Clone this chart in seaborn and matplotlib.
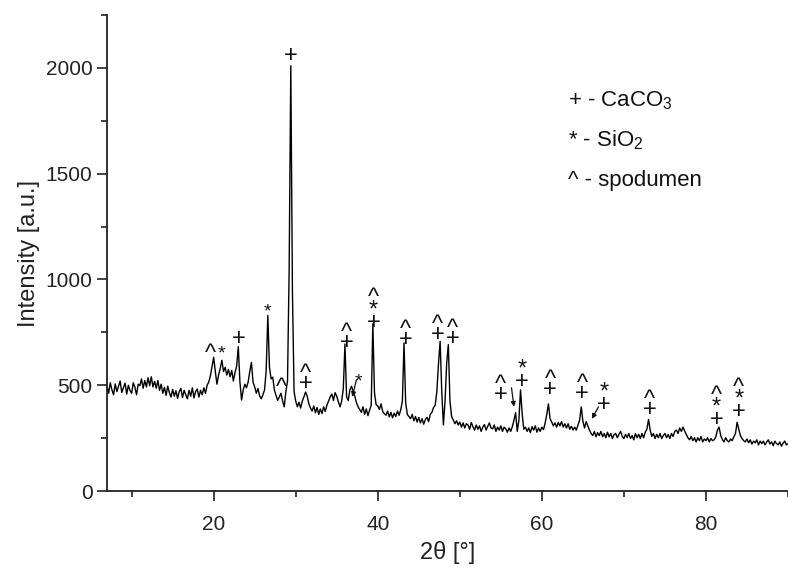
import numpy as np
import pandas as pd
import matplotlib
matplotlib.use("Agg")
import matplotlib.pyplot as plt
import seaborn as sns

# ---------------- data ----------------
scan_start = 7.0   # first 2theta of the scan [deg]
scan_step = 0.2    # scan step [deg]
intensity = [
    495, 462, 512, 478, 455,   # 7
    506, 470, 495, 520, 466,   # 8
    488, 510, 458, 500, 475,   # 9
    462, 512, 490, 455, 505,   # 10
    498, 530, 486, 522, 492,   # 11
    535, 498, 540, 492, 518,   # 12
    486, 522, 476, 505, 462,   # 13
    490, 452, 496, 465, 444,   # 14
    480, 448, 474, 438, 470,   # 15
    485, 442, 476, 455, 436,   # 16
    476, 448, 488, 440, 470,   # 17
    482, 444, 476, 455, 488,   # 18
    462, 500, 515, 545, 590,   # 19
    632, 565, 505, 548, 580,   # 20
    618, 565, 585, 548, 575,   # 21
    540, 570, 520, 560, 590,   # 22
    682, 515, 430, 478, 505,   # 23
    488, 515, 565, 608, 515,   # 24
    492, 462, 485, 450, 436,   # 25
    455, 478, 570, 830, 585,   # 26
    530, 538, 478, 452, 428,   # 27
    445, 462, 426, 398, 470,   # 28
    520, 1050, 2010, 940, 470, # 29
    425, 398, 420, 392, 425,   # 30
    445, 468, 448, 412, 392,   # 31
    378, 402, 370, 395, 362,   # 32
    388, 366, 398, 376, 405,   # 33
    425, 445, 458, 428, 465,   # 34
    448, 422, 398, 425, 485,   # 35
    695, 445, 428, 478, 495,   # 36
    472, 448, 418, 398, 385,   # 37
    372, 398, 362, 388, 356,   # 38
    382, 405, 790, 465, 408,   # 39
    402, 386, 412, 376, 366,   # 40
    358, 378, 350, 372, 346,   # 41
    368, 352, 378, 358, 384,   # 42
    425, 700, 418, 362, 352,   # 43
    342, 362, 332, 352, 326,   # 44
    348, 322, 342, 316, 338,   # 45
    348, 328, 362, 372, 395,   # 46
    405, 470, 600, 708, 470,   # 47
    312, 425, 605, 692, 425,   # 48
    352, 336, 318, 332, 312,   # 49
    326, 302, 322, 298, 318,   # 50
    312, 292, 324, 304, 288,   # 51
    312, 292, 308, 282, 302,   # 52
    314, 288, 306, 322, 298,   # 53
    294, 312, 282, 302, 288,   # 54
    308, 282, 302, 294, 278,   # 55
    298, 282, 304, 335, 370,   # 56
    282, 335, 478, 365, 292,   # 57
    302, 282, 298, 276, 304,   # 58
    288, 308, 278, 298, 282,   # 59
    302, 290, 322, 362, 412,   # 60
    342, 326, 308, 322, 302,   # 61
    324, 308, 328, 302, 318,   # 62
    298, 318, 292, 306, 288,   # 63
    302, 288, 312, 335, 398,   # 64
    330, 298, 328, 308, 288,   # 65
    272, 262, 282, 256, 276,   # 66
    262, 282, 256, 272, 252,   # 67
    278, 256, 272, 248, 266,   # 68
    272, 252, 268, 282, 258,   # 69
    248, 268, 252, 272, 248,   # 70
    262, 242, 272, 252, 268,   # 71
    248, 272, 252, 278, 292,   # 72
    338, 288, 258, 272, 248,   # 73
    268, 252, 272, 248, 262,   # 74
    272, 252, 268, 248, 272,   # 75
    258, 282, 288, 272, 298,   # 76
    282, 302, 284, 268, 252,   # 77
    242, 258, 238, 252, 232,   # 78
    252, 238, 258, 232, 246,   # 79
    238, 252, 232, 248, 238,   # 80
    242, 256, 288, 302, 262,   # 81
    244, 232, 252, 238, 232,   # 82
    246, 238, 256, 272, 325,   # 83
    292, 262, 248, 238, 232,   # 84
    246, 228, 242, 222, 236,   # 85
    228, 242, 218, 236, 224,   # 86
    236, 218, 232, 242, 222,   # 87
    232, 214, 236, 224, 218,   # 88
    232, 212, 226, 236, 218,   # 89
    224,                       # 90
]
two_theta = np.round(scan_start + scan_step * np.arange(len(intensity)), 1)

# phase marks stacked above the peaks:
# x, centre of the lowest symbol (data units), and the stacked symbols
mark_x = [19.6, 21.0, 23.1, 26.6, 28.3, 29.4, 31.2, 36.2, 37.7, 39.5,
          43.4, 47.3, 49.1, 55.0, 57.6, 61.0, 64.9, 67.6, 73.1, 81.3, 84.0]
mark_y = [678, 682, 730, 880, 516, 2066, 517, 711, 550, 806,
          725, 749, 730, 464, 526, 488, 469, 417, 393, 346, 384]
mark_text = ['^', '*', '+', '*', '^', '+', '^\n+', '^\n+', '*', '^\n*\n+',
             '^\n+', '^\n+', '^\n+', '^\n+', '*\n+', '^\n+', '^\n+', '*\n+',
             '^\n+', '^\n*\n+', '^\n*\n+']

# small arrows from marks to weak peaks
arrow_tail_x = [37.4, 56.3, 66.9]
arrow_tail_y = [526, 488, 398]
arrow_head_x = [36.9, 56.6, 66.1]
arrow_head_y = [445, 398, 341]

legend_sym = ['+', '*', '^']
legend_name = ['CaCO$_3$', 'SiO$_2$', 'spodumen']

x_major = [20, 40, 60, 80]
x_minor = [10, 30, 50, 70, 90]
y_major = [0, 500, 1000, 1500, 2000]
y_minor = [250, 750, 1250, 1750, 2250]

# ---------------- style ----------------
sns.set_theme(style="ticks")
plt.rcParams['font.family'] = ['Liberation Sans', 'DejaVu Sans']
plt.rcParams['mathtext.fontset'] = 'custom'
plt.rcParams['mathtext.rm'] = 'Liberation Sans'
plt.rcParams['mathtext.it'] = 'Liberation Sans:italic'

df = pd.DataFrame({'two_theta': two_theta, 'intensity': intensity})

fig = plt.figure(figsize=(7.88, 5.67), dpi=100)
ax = fig.add_axes([0.1358, 0.134, 0.8642, 0.8395])
sns.lineplot(data=df, x='two_theta', y='intensity', ax=ax, color='black',
             linewidth=1.0, estimator=None, sort=False)

ax.set_xlim(7, 90)
ax.set_ylim(0, 2250)
ax.set_xticks(x_major)
ax.set_xticks(x_minor, minor=True)
ax.set_yticks(y_major)
ax.set_yticks(y_minor, minor=True)
ax.tick_params(which='major', direction='out', length=7, width=1.2,
               labelsize=15, colors='#222222')
ax.tick_params(which='minor', direction='out', length=4, width=1.2, colors='#222222')
ax.tick_params(axis='x', which='major', pad=10)
for side in ('top', 'right'):
    ax.spines[side].set_visible(False)
for side in ('left', 'bottom'):
    ax.spines[side].set_linewidth(1.3)
    ax.spines[side].set_color('#222222')

ax.set_xlabel('2θ [°]', fontsize=17, labelpad=5, color='#222222')
ax.set_ylabel('Intensity [a.u.]', fontsize=17, labelpad=4, color='#222222')

# offset (in font-size units) from the bottom of a text block
# to the centre of its lowest glyph
glyph_centre = {'+': 0.56, '^': 0.73, '*': 0.79}
for x, y, t in zip(mark_x, mark_y, mark_text):
    fs = 14 if t == '*' else 17
    low = t.split('\n')[-1]
    ls = 0.3 if t.startswith('^') and t.count('\n') == 1 else 0.42
    ax.annotate(t, xy=(x, y), xytext=(0, -glyph_centre[low] * fs),
                textcoords='offset points', ha='center', va='bottom',
                multialignment='center', linespacing=ls,
                fontsize=fs, color='#111111')

for tx, ty, hx, hy in zip(arrow_tail_x, arrow_tail_y, arrow_head_x, arrow_head_y):
    ax.annotate('', xy=(hx, hy), xytext=(tx, ty),
                arrowprops=dict(arrowstyle='-|>', color='#111111', lw=0.9,
                                mutation_scale=7, shrinkA=0, shrinkB=0))

for i, (s, n) in enumerate(zip(legend_sym, legend_name)):
    ax.text(0.677, 0.821 - i * 0.084, f'{s} - {n}', transform=ax.transAxes,
            ha='left', va='center', fontsize=16, color='#111111')

fig.savefig('out.png', dpi=100)
